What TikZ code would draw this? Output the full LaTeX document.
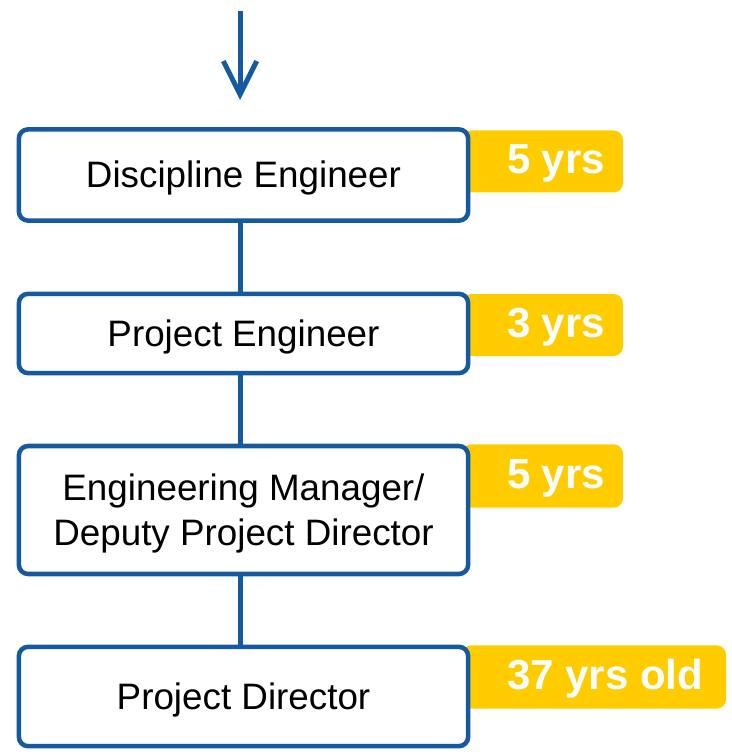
\documentclass[tikz,border=0pt]{standalone}
\usepackage{fontspec}
\setmainfont{Liberation Sans}
\usetikzlibrary{arrows.meta}
\definecolor{boxblue}{RGB}{21,90,160}
\definecolor{badgeyellow}{RGB}{255,204,0}
\newcommand\dropstrut{\rule{0pt}{25pt}}
\tikzset{
  stage/.style={draw=boxblue, line width=3.4pt, fill=white, rounded corners=7pt,
    minimum width=337pt, inner sep=0pt, align=center,
    font=\fontsize{27.6pt}{34pt}\selectfont},
  badge/.style={fill=badgeyellow, rounded corners=7pt, inner sep=0pt},
  badgetext/.style={anchor=west, text=white, inner sep=0pt, yshift=-1.5pt,
    font=\fontsize{31.5pt}{36pt}\selectfont\bfseries},
  link/.style={draw=boxblue, line width=3.75pt},
}
\begin{document}
\begin{tikzpicture}[x=0.75pt,y=-0.75pt]
\useasboundingbox (0,0) rectangle (731,755);
\coordinate (top) at (240,11);
% badges (behind boxes)
\node[badge, minimum width=120.75pt, minimum height=46.5pt] (y1) at (542.5,161.5) {};
\node[badge, minimum width=120.75pt, minimum height=46.5pt] (y2) at (542.5,325) {};
\node[badge, minimum width=120.75pt, minimum height=47.5pt] (y3) at (542.5,476) {};
\node[badge, minimum width=198pt, minimum height=47.5pt] (y4) at (594,677) {};
\node[badgetext] (t1) at ([xshift=33.75pt]y1.west) {5 yrs};
\node[badgetext] (t2) at ([xshift=33.75pt]y2.west) {3 yrs};
\node[badgetext] (t3) at ([xshift=33.75pt]y3.west) {5 yrs};
\node[badgetext] (t4) at ([xshift=33.75pt]y4.west) {37 yrs old};
% stage boxes
\node[stage, minimum height=68.5pt] (b1) at (243.5,175) {\dropstrut Discipline Engineer};
\node[stage, minimum height=59.5pt] (b2) at (243.5,333.5) {\dropstrut Project Engineer};
\node[stage, minimum height=96pt] (b3) at (243.5,510) {\dropstrut Engineering Manager/\\Deputy Project Director};
\node[stage, minimum height=74.5pt] (b4) at (243.5,696.5) {\dropstrut Project Director};
% connectors
\draw[link, -{Straight Barb[length=25pt,width=25pt]}] (top) -- (top |- 0,100);
\draw[link] (b1.south -| top) -- (b2.north -| top);
\draw[link] (b2.south -| top) -- (b3.north -| top);
\draw[link] (b3.south -| top) -- (b4.north -| top);
\end{tikzpicture}
\end{document}
